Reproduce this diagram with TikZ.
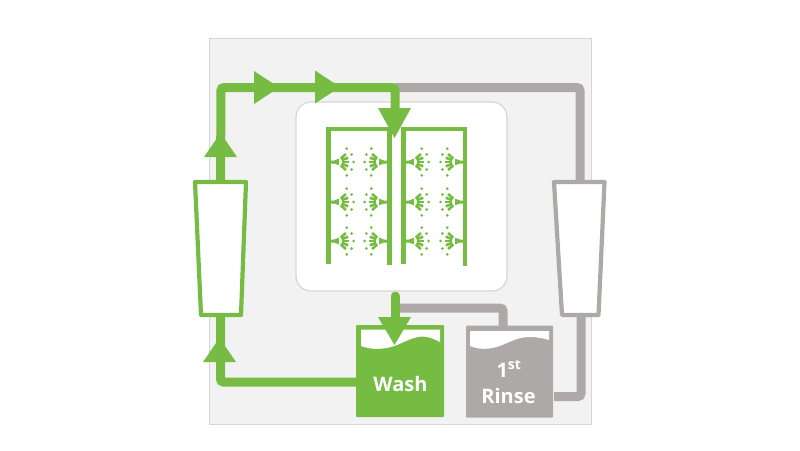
\documentclass[tikz,border=0pt]{standalone}
\usepackage{fontspec}
\setmainfont{Open Sans}
\definecolor{flowgreen}{HTML}{76BC43}
\definecolor{idlegray}{HTML}{ADA9A8}
\definecolor{panelgray}{HTML}{F2F2F2}
\definecolor{edgegray}{HTML}{D6D6D6}
\tikzset{
	pipe/.style={line width=9pt, rounded corners=3pt, line cap=round},
	filter/.style={line width=4.2pt, line join=round, fill=white},
	tank/.style={rectangle, minimum width=88pt, minimum height=92pt, inner sep=0pt, rounded corners=1pt},
	tanklabel/.style={text=white, font=\bfseries\fontsize{20}{22}\selectfont, inner sep=0pt, anchor=base},
	pics/nozzle/.style={code={
		\fill[flowgreen] (0,-1.5) -- (3,-1.5) -- (8,-3.4) -- (8,3.4) -- (3,1.5) -- (0,1.5) -- cycle;
		\foreach \a in {-42,-21,0,21,42}
			\draw[flowgreen, line width=2.6pt] ([shift={(\a:5)}]6,0) -- ([shift={(\a:12)}]6,0);
		\foreach \a in {-54,-27,0,27,54}
			\fill[flowgreen] ([shift={(\a:16.5)}]6,0) circle (1.5);
	}}
}
\begin{document}
\begin{tikzpicture}[x=1pt,y=-1pt]
	\useasboundingbox (0,0) rectangle (800,450);

	% panels
	\node (panel) [draw=edgegray, line width=1pt, fill=panelgray, minimum width=382pt, minimum height=386pt, inner sep=0pt, rectangle] at (400,231) {};
	\node (chamber) [draw=edgegray, line width=1.2pt, fill=white, rounded corners=15pt, minimum width=211pt, minimum height=189pt, inner sep=0pt, rectangle] at (401.5,196.5) {};

	% tanks
	\node (wash) [tank, fill=flowgreen] at (400,371) {};
	\node (rinse) [tank, fill=idlegray, minimum width=87pt] at (509.5,371.5) {};

	% pipe points
	\coordinate (topleft) at (221,87.5);
	\coordinate (topmid) at (395,87.5);
	\coordinate (topright) at (580,87.5);
	\coordinate (filterLtop) at (220.5,182);
	\coordinate (filterLbot) at (220.5,315);
	\coordinate (filterRtop) at (580,182);
	\coordinate (filterRbot) at (581,315);
	\coordinate (lowleft) at (220.5,382);
	\coordinate (washout) at (357,382);
	\coordinate (rinseout) at (554,396.5);
	\coordinate (lowright) at (581,396.5);
	\coordinate (drain) at (395,296);
	\coordinate (drainside) at (395,308);
	\coordinate (drainturn) at (503,308);
	\coordinate (rinsein) at (503,327);
	\coordinate (washin) at (395,322);
	\coordinate (spray) at (395,110);

	% gray pipes
	\draw[pipe, idlegray, line cap=butt] (topmid) -- (topright) -- (filterRtop);
	\draw[pipe, idlegray, line cap=butt] (rinseout) -- (lowright) -- (filterRbot);
	\draw[pipe, idlegray, line cap=butt] (drainside) -- (drainturn) -- (rinsein);

	% green pipes
	\draw[pipe, flowgreen, line cap=butt] (filterLtop) -- (topleft) -- (topmid) -- (spray);
	\draw[pipe, flowgreen, line cap=butt] (washout) -- (lowleft) -- (filterLbot);
	\draw[pipe, flowgreen] (drain) -- (washin);

	% filters
	\draw[filter, draw=flowgreen] (195,182) -- (246,182) -- (241,315) -- (201,315) -- cycle;
	\draw[filter, draw=idlegray] (554,182) -- (604.5,182) -- (598.5,315) -- (562,315) -- cycle;

	% liquid
	\fill[white] (361,329.5) -- (361,346) .. controls (372,350) and (384,350) .. (397,345) .. controls (408,340) and (418,335) .. (427,337) .. controls (432,338) and (436,340) .. (440,342) -- (440,329.5) -- cycle;
	\fill[white] (470,331) -- (470,346) .. controls (482,351) and (494,349) .. (507,343) .. controls (518,338) and (528,334) .. (549,340) -- (549,331) -- cycle;

	% heads
	\fill[flowgreen] (254,71) -- (279,87.5) -- (254,104) -- cycle;
	\fill[flowgreen] (315,70.5) -- (340,87) -- (315,103.5) -- cycle;
	\fill[flowgreen] (378,108) -- (411,108) -- (394.5,138) -- cycle;
	\fill[flowgreen] (204,157) -- (237,157) -- (220.5,133) -- cycle;
	\fill[flowgreen] (203,362) -- (236,362) -- (219.5,338) -- cycle;
	\fill[flowgreen] (378,317) -- (411,317) -- (394.5,345) -- cycle;

	% manifolds
	\draw[flowgreen, line width=4.5pt] (328.5,264) -- (328.5,129) -- (389.5,129) -- (389.5,265);
	\draw[flowgreen, line width=4.5pt] (403.5,264) -- (403.5,129) -- (465,129) -- (465,266);

	% nozzles
	\foreach \y in {162,202,241} {
		\pic at (331,\y) {nozzle};
		\pic[xscale=-1] at (387,\y) {nozzle};
		\pic at (406,\y) {nozzle};
		\pic[xscale=-1] at (463,\y) {nozzle};
	}

	% labels
	\node (washlabel) [tanklabel] at (400.5,391) {Wash};
	\node (rinselabel) [tanklabel] at (508.5,403) {Rinse};
	\node (rinsenum) [tanklabel] at (509,377) {1\textsuperscript{st}};

\end{tikzpicture}
\end{document}
